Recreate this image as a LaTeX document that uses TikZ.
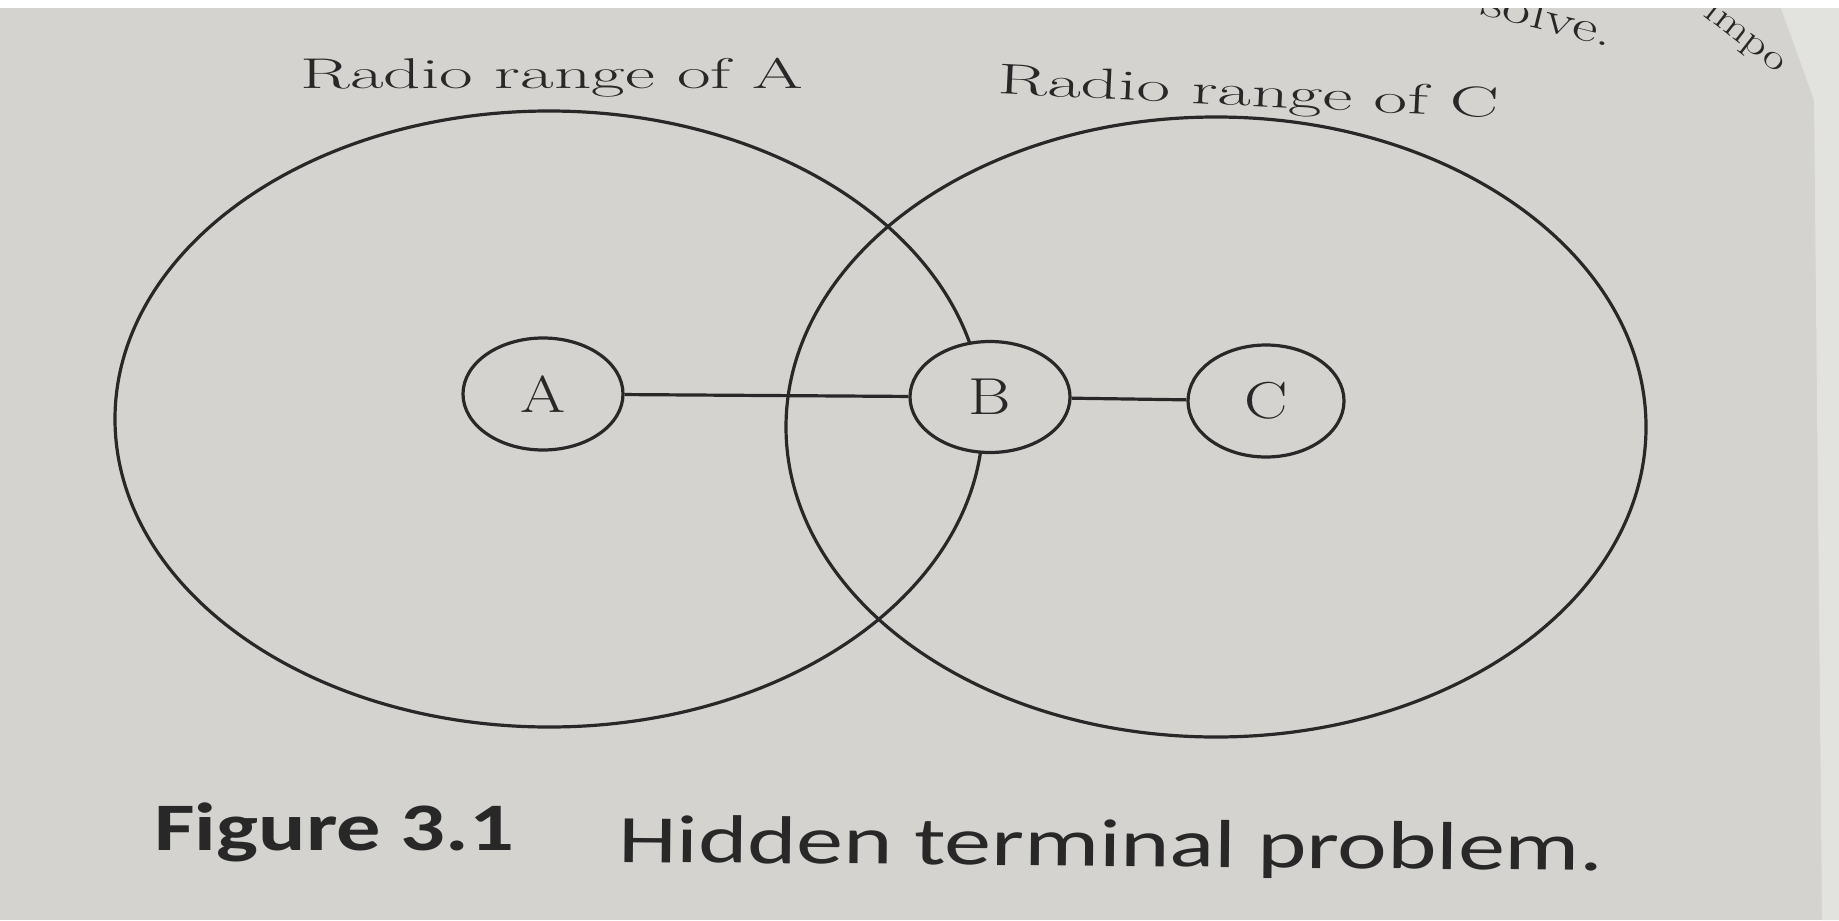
\documentclass[tikz,border=0pt]{standalone}
\usepackage{graphicx}
\usepackage{fontspec}
\newfontfamily\capfont{Carlito}
\usetikzlibrary{shapes.geometric}
\definecolor{paper}{RGB}{212,211,207}
\definecolor{paperlight}{RGB}{226,226,223}
\definecolor{ink}{RGB}{40,40,40}
\begin{document}
\begin{tikzpicture}[x=0.5pt,y=-0.5pt,
  rangeline/.style={draw=ink,line width=1.6pt},
  station/.style={ellipse,draw=ink,line width=1.6pt,fill=paper,inner sep=0pt,text=ink,font=\fontsize{26}{30}\selectfont},
  linkline/.style={draw=ink,line width=1.6pt},
  lbl/.style={text=ink,font=\fontsize{21.5}{26}\selectfont,inner sep=0pt,anchor=base},
  captxt/.style={text=ink,inner sep=0pt,anchor=base west}]
\useasboundingbox (0,0) rectangle (1839,920);
\fill[paper] (0,0) rectangle (1839,920);
\fill[paperlight] (1778,0) -- (1839,0) -- (1839,920) -- (1822,920) -- (1814,100) -- cycle;
% page fragments at the top right
\node[text=ink,font=\fontsize{22}{26}\selectfont,rotate=-14,inner sep=0pt] (frag) at (1548,16) {\scalebox{1.4}[1]{solve.}};
\node[text=ink,font=\fontsize{18}{22}\selectfont,rotate=-38,inner sep=0pt] (frag2) at (1745,38) {\scalebox{1.3}[1]{impo}};
\fill[white] (0,0) rectangle (1839,8);
% radio ranges
\draw[rangeline] (549,419) ellipse [x radius=434, y radius=308];
\draw[rangeline] (1216,427) ellipse [x radius=430, y radius=310];
% stations
\node[station,minimum width=80pt,minimum height=56pt] (A) at (543,394) {\scalebox{1.25}[1]{A}};
\node[station,minimum width=80pt,minimum height=55.5pt] (B) at (990,397) {\scalebox{1.25}[1]{B}};
\node[station,minimum width=78pt,minimum height=56pt] (C) at (1266,401) {\scalebox{1.25}[1]{C}};
\draw[linkline] (A) -- (B);
\draw[linkline] (B) -- (C);
% labels
\node[lbl] (la) at (552,89) {\scalebox{1.7}[1]{Radio range of A}};
\node[lbl,rotate=-2.8] (lc) at (1248,106) {\scalebox{1.7}[1]{Radio range of C}};
% caption
\node[captxt,font=\capfont\bfseries\fontsize{34}{40}\selectfont] (fig) at (154,850) {\scalebox{1.3}[1]{Figure 3.1}};
\node[captxt,font=\capfont\fontsize{34}{40}\selectfont,rotate=-0.5] (cap) at (618,862) {\scalebox{1.38}[1]{Hidden terminal problem.}};
\end{tikzpicture}
\end{document}
